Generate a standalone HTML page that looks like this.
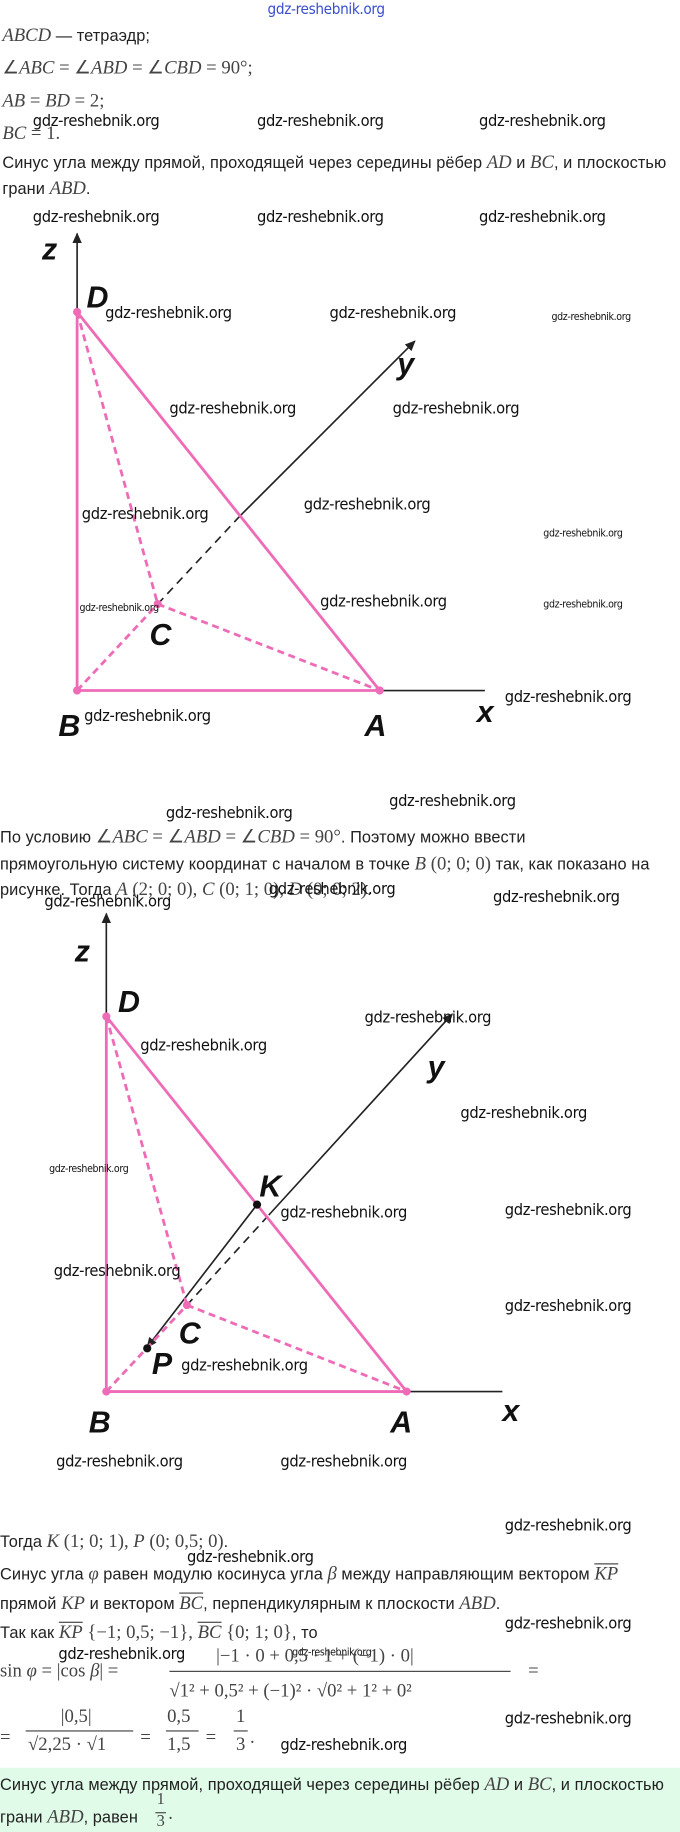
<!DOCTYPE html>
<html><head><meta charset="utf-8"><style>
html,body{margin:0;padding:0;background:#fff;}
#w{width:680px;height:1832px;overflow:hidden;position:relative;}
#s{position:absolute;left:0;top:0;width:582px;height:1568px;transform:scale(1.16838);transform-origin:0 0;font-family:"Liberation Sans",sans-serif;color:#222;}
.t{position:absolute;font-size:14px;letter-spacing:0.05px;white-space:nowrap;line-height:16px;}
.m{font-family:"Liberation Serif",serif;font-style:italic;font-size:16px;letter-spacing:0;color:#444;}
.r{font-family:"Liberation Serif",serif;font-size:16px;letter-spacing:0;color:#444;}
.wm{position:absolute;font-family:"DejaVu Sans Condensed","DejaVu Sans",sans-serif;font-size:14px;color:#111;white-space:nowrap;letter-spacing:-0.3px;}
.ws{font-size:9px;}
.green{position:absolute;left:0;top:1513px;width:582px;height:55px;background:#e1fbe9;}
.lb{font-family:"Liberation Sans",sans-serif;font-weight:bold;font-style:italic;font-size:26px;fill:#111;}
</style></head><body><div id="w"><div id="s">
<div class="wm" style="left:229px;top:1px;color:#3a4fd0;font-size:13px;">gdz-reshebnik.org</div>
<div class="t" style="left:2px;top:22px"><span class="m">ABCD</span> — тетраэдр;</div>
<div class="t" style="left:2px;top:50px"><span class="r">∠<i>ABC</i> = ∠<i>ABD</i> = ∠<i>CBD</i> = 90°;</span></div>
<div class="t" style="left:2px;top:78px"><span class="r"><i>AB</i> = <i>BD</i> = 2;</span></div>
<div class="t" style="left:2px;top:106px"><span class="r"><i>BC</i> = 1.</span></div>
<div class="t" style="left:2px;top:131px">Синус угла между прямой, проходящей через середины рёбер <span class="m">AD</span> и <span class="m">BC</span>, и плоскостью</div>
<div class="t" style="left:2px;top:153px">грани <span class="m">ABD</span>.</div>
<div class="wm" style="left:28px;top:96px">gdz-reshebnik.org</div>
<div class="wm" style="left:220px;top:96px">gdz-reshebnik.org</div>
<div class="wm" style="left:410px;top:96px">gdz-reshebnik.org</div>
<div class="wm" style="left:28px;top:178px">gdz-reshebnik.org</div>
<div class="wm" style="left:220px;top:178px">gdz-reshebnik.org</div>
<div class="wm" style="left:410px;top:178px">gdz-reshebnik.org</div>

<svg style="position:absolute;left:0;top:0" width="582" height="1568">
<defs><marker id="ar" markerWidth="10" markerHeight="10" refX="8" refY="5" orient="auto" markerUnits="userSpaceOnUse"><path d="M0,1 L9,5 L0,9 Z" fill="#222"/></marker></defs>
<g stroke="#222" stroke-width="1.4" fill="none">
<line x1="66" y1="591" x2="66" y2="200" marker-end="url(#ar)"/>
<line x1="325" y1="591" x2="415" y2="591"/>
<line x1="135" y1="517" x2="205" y2="442" stroke-dasharray="7,5"/>
<line x1="205" y1="442" x2="355" y2="292" marker-end="url(#ar)"/>
</g>
<g stroke="#ee6cb7" stroke-width="2.4" fill="none">
<line x1="66" y1="267" x2="66" y2="591"/>
<line x1="66" y1="591" x2="325" y2="591"/>
<line x1="66" y1="267" x2="325" y2="591"/>
<line x1="66" y1="267" x2="135" y2="517" stroke-dasharray="6,4"/>
<line x1="135" y1="517" x2="325" y2="591" stroke-dasharray="6,4"/>
<line x1="66" y1="591" x2="135" y2="517" stroke-dasharray="6,4"/>
</g>
<g fill="#ee6cb7"><circle cx="66" cy="267" r="3.5"/><circle cx="66" cy="591" r="3.5"/><circle cx="325" cy="591" r="3.5"/><circle cx="135" cy="517" r="3.5"/></g>
<text class="lb" x="36" y="222">z</text><text class="lb" x="74" y="263">D</text><text class="lb" x="340" y="320">y</text>
<text class="lb" x="128" y="552">C</text><text class="lb" x="50" y="630">B</text><text class="lb" x="312" y="630">A</text><text class="lb" x="408" y="618">x</text>

<g stroke="#222" stroke-width="1.4" fill="none">
<line x1="91" y1="1191" x2="91" y2="782" marker-end="url(#ar)"/>
<line x1="348" y1="1191" x2="430" y2="1191"/>
<line x1="160" y1="1117" x2="230" y2="1040" stroke-dasharray="7,5"/>
<line x1="230" y1="1040" x2="387" y2="868" marker-end="url(#ar)"/>
<line x1="220" y1="1031" x2="126" y2="1153" marker-end="url(#ar)"/>
</g>
<g stroke="#ee6cb7" stroke-width="2.4" fill="none">
<line x1="91" y1="870" x2="91" y2="1191"/>
<line x1="91" y1="1191" x2="348" y2="1191"/>
<line x1="91" y1="870" x2="348" y2="1191"/>
<line x1="91" y1="870" x2="160" y2="1117" stroke-dasharray="6,4"/>
<line x1="160" y1="1117" x2="348" y2="1191" stroke-dasharray="6,4"/>
<line x1="91" y1="1191" x2="160" y2="1117" stroke-dasharray="6,4"/>
</g>
<g fill="#ee6cb7"><circle cx="91" cy="870" r="3.5"/><circle cx="91" cy="1191" r="3.5"/><circle cx="348" cy="1191" r="3.5"/><circle cx="160" cy="1117" r="3.5"/></g>
<g fill="#111"><circle cx="220" cy="1031" r="3.5"/><circle cx="126" cy="1154" r="3.5"/></g>
<text class="lb" x="64" y="823">z</text><text class="lb" x="101" y="866">D</text><text class="lb" x="366" y="922">y</text>
<text class="lb" x="222" y="1024">K</text><text class="lb" x="153" y="1150">C</text><text class="lb" x="130" y="1176">P</text>
<text class="lb" x="76" y="1226">B</text><text class="lb" x="334" y="1226">A</text><text class="lb" x="430" y="1216">x</text>
</svg>

<div class="wm" style="left:90px;top:260px">gdz-reshebnik.org</div>
<div class="wm" style="left:282px;top:260px">gdz-reshebnik.org</div>
<div class="wm ws" style="left:472px;top:267px">gdz-reshebnik.org</div>
<div class="wm" style="left:145px;top:342px">gdz-reshebnik.org</div>
<div class="wm" style="left:336px;top:342px">gdz-reshebnik.org</div>
<div class="wm" style="left:70px;top:432px">gdz-reshebnik.org</div>
<div class="wm" style="left:260px;top:424px">gdz-reshebnik.org</div>
<div class="wm ws" style="left:465px;top:452px">gdz-reshebnik.org</div>
<div class="wm" style="left:274px;top:507px">gdz-reshebnik.org</div>
<div class="wm ws" style="left:68px;top:516px">gdz-reshebnik.org</div>
<div class="wm ws" style="left:465px;top:513px">gdz-reshebnik.org</div>
<div class="wm" style="left:72px;top:605px">gdz-reshebnik.org</div>
<div class="wm" style="left:432px;top:589px">gdz-reshebnik.org</div>

<div class="wm" style="left:142px;top:688px">gdz-reshebnik.org</div>
<div class="wm" style="left:333px;top:678px">gdz-reshebnik.org</div>
<div class="t" style="left:0;top:708px">По условию <span class="r">∠<i>ABC</i> = ∠<i>ABD</i> = ∠<i>CBD</i> = 90°</span>. Поэтому можно ввести</div>
<div class="t" style="left:0;top:731px">прямоугольную систему координат с началом в точке <span class="r"><i>B</i> (0; 0; 0)</span> так, как показано на</div>
<div class="t" style="left:0;top:753px">рисунке. Тогда <span class="r"><i>A</i> (2; 0; 0), <i>C</i> (0; 1; 0), <i>D</i> (0; 0; 2)</span>.</div>
<div class="wm" style="left:422px;top:760px">gdz-reshebnik.org</div>
<div class="wm" style="left:38px;top:764px">gdz-reshebnik.org</div>
<div class="wm" style="left:230px;top:753px">gdz-reshebnik.org</div>

<div class="wm" style="left:312px;top:863px">gdz-reshebnik.org</div>
<div class="wm" style="left:120px;top:887px">gdz-reshebnik.org</div>
<div class="wm" style="left:394px;top:945px">gdz-reshebnik.org</div>
<div class="wm ws" style="left:42px;top:996px">gdz-reshebnik.org</div>
<div class="wm" style="left:240px;top:1030px">gdz-reshebnik.org</div>
<div class="wm" style="left:432px;top:1028px">gdz-reshebnik.org</div>
<div class="wm" style="left:46px;top:1080px">gdz-reshebnik.org</div>
<div class="wm" style="left:432px;top:1110px">gdz-reshebnik.org</div>
<div class="wm" style="left:155px;top:1161px">gdz-reshebnik.org</div>
<div class="wm" style="left:48px;top:1243px">gdz-reshebnik.org</div>
<div class="wm" style="left:240px;top:1243px">gdz-reshebnik.org</div>

<div class="wm" style="left:432px;top:1298px">gdz-reshebnik.org</div>
<div class="t" style="left:0;top:1311px">Тогда <span class="r"><i>K</i> (1; 0; 1), <i>P</i> (0; 0,5; 0)</span>.</div>
<div class="wm" style="left:160px;top:1325px">gdz-reshebnik.org</div>
<div class="t" style="left:0;top:1339px">Синус угла <span class="m">φ</span> равен модулю косинуса угла <span class="m">β</span> между направляющим вектором <span class="m" style="text-decoration:overline">KP</span></div>
<div class="t" style="left:0;top:1364px">прямой <span class="m">KP</span> и вектором <span class="m" style="text-decoration:overline">BC</span>, перпендикулярным к плоскости <span class="m">ABD</span>.</div>
<div class="wm" style="left:432px;top:1382px">gdz-reshebnik.org</div>
<div class="t" style="left:0;top:1389px">Так как <span class="r"><i style="text-decoration:overline">KP</i> {−1; 0,5; −1}, <i style="text-decoration:overline">BC</i> {0; 1; 0}</span>, то</div>
<div class="wm" style="left:50px;top:1408px">gdz-reshebnik.org</div>
<div class="wm ws" style="left:250px;top:1410px">gdz-reshebnik.org</div>
<div class="t r" style="left:0;top:1423px">sin <i>φ</i> = |cos <i>β</i>| =</div>
<div class="t r" style="left:185px;top:1410px">|−1 · 0 + 0,5 · 1 + (−1) · 0|</div>
<div style="position:absolute;left:145px;top:1430px;width:292px;height:1px;background:#444"></div>
<div class="t r" style="left:145px;top:1440px">√1² + 0,5² + (−1)² · √0² + 1² + 0²</div>
<div class="t r" style="left:452px;top:1423px">=</div>
<div class="wm" style="left:432px;top:1463px">gdz-reshebnik.org</div>
<div class="t r" style="left:0;top:1480px">=</div>
<div class="t r" style="left:52px;top:1462px">|0,5|</div>
<div style="position:absolute;left:22px;top:1481px;width:92px;height:1px;background:#444"></div>
<div class="t r" style="left:24px;top:1486px">√2,25 · √1</div>
<div class="t r" style="left:120px;top:1480px">=</div>
<div class="t r" style="left:143px;top:1462px">0,5</div>
<div style="position:absolute;left:142px;top:1481px;width:28px;height:1px;background:#444"></div>
<div class="t r" style="left:143px;top:1486px">1,5</div>
<div class="t r" style="left:176px;top:1480px">=</div>
<div class="t r" style="left:202px;top:1462px">1</div>
<div style="position:absolute;left:200px;top:1481px;width:12px;height:1px;background:#444"></div>
<div class="t r" style="left:202px;top:1486px">3</div>
<div class="t r" style="left:214px;top:1480px">.</div>
<div class="wm" style="left:240px;top:1486px">gdz-reshebnik.org</div>

<div class="green"></div>
<div class="t" style="left:0;top:1519px">Синус угла между прямой, проходящей через середины рёбер <span class="m">AD</span> и <span class="m">BC</span>, и плоскостью</div>
<div class="t" style="left:0;top:1547px">грани <span class="m">ABD</span>, равен</div>
<div class="t r" style="left:134px;top:1533px;font-size:14px">1</div>
<div style="position:absolute;left:133px;top:1551px;width:9px;height:1px;background:#444"></div>
<div class="t r" style="left:134px;top:1552px;font-size:14px">3</div>
<div class="t r" style="left:144px;top:1545px">.</div>
</div></div></body></html>
